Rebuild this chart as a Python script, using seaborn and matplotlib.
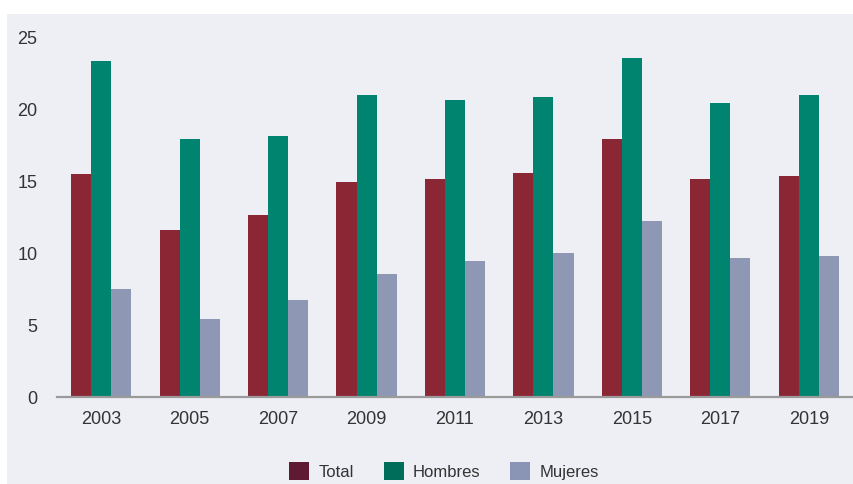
import matplotlib
matplotlib.use("Agg")
import matplotlib.pyplot as plt
from matplotlib.patches import Patch, Rectangle
import seaborn as sns
import pandas as pd

years = ["2003", "2005", "2007", "2009", "2011", "2013", "2015", "2017", "2019"]
total = [15.5, 11.6, 12.7, 15.0, 15.2, 15.6, 18.0, 15.2, 15.4]
hombres = [23.4, 18.0, 18.2, 21.0, 20.7, 20.9, 23.6, 20.5, 21.0]
mujeres = [7.5, 5.4, 6.75, 8.6, 9.5, 10.0, 12.25, 9.7, 9.8]
series = ["Total", "Hombres", "Mujeres"]
yticks = [0, 5, 10, 15, 20, 25]

bar_colors = {"Total": "#8b2635", "Hombres": "#00836f", "Mujeres": "#8e98b5"}
legend_colors = {"Total": "#5f1a33", "Hombres": "#006d5a", "Mujeres": "#8a94b5"}
bg = "#eeeff5"

df = pd.DataFrame({
    "year": years * 3,
    "value": total + hombres + mujeres,
    "serie": [s for s in series for _ in years],
})

sns.set_theme(style="white")
plt.rcParams["font.family"] = ["Liberation Sans", "DejaVu Sans"]

fig = plt.figure(figsize=(8.54, 4.84), dpi=100, facecolor="white")
fig.patches.append(Rectangle((7 / 854, 0), 1, 1 - 14 / 484, transform=fig.transFigure,
                             facecolor=bg, edgecolor="none", zorder=-10))
ax = fig.add_axes([57 / 854, 87 / 484, (853 - 57) / 854, (397 - 38) / 484])
ax.set_facecolor(bg)
ax.patch.set_alpha(0)

sns.barplot(data=df, x="year", y="value", hue="serie", hue_order=series, order=years,
            palette=bar_colors, width=0.68, linewidth=0, saturation=1, ax=ax, legend=False)

ax.set_xlim(-0.5, 8.5)
ax.set_ylim(0, 25)
ax.set_yticks(yticks)
ax.set_yticklabels([str(t) for t in yticks])
ax.set_xlabel("")
ax.set_ylabel("")
ax.tick_params(axis="both", length=0, labelsize=13, colors="#333333")
ax.tick_params(axis="y", pad=14)
ax.tick_params(axis="x", pad=10)
for s in ["top", "right", "left"]:
    ax.spines[s].set_visible(False)
ax.spines["bottom"].set_color("#9a9a9a")
ax.spines["bottom"].set_linewidth(1.6)
ax.grid(False)

handles = [Patch(facecolor=legend_colors[s], edgecolor="none", label=s) for s in series]
fig.legend(handles=handles, loc="center", bbox_to_anchor=(444 / 854, 1 - 471 / 484),
           ncol=3, frameon=False, fontsize=12, handlelength=1.2, handleheight=1.2,
           handletextpad=0.55, columnspacing=1.8, labelcolor="#333333")

fig.savefig("out.png", dpi=100, facecolor="white")
